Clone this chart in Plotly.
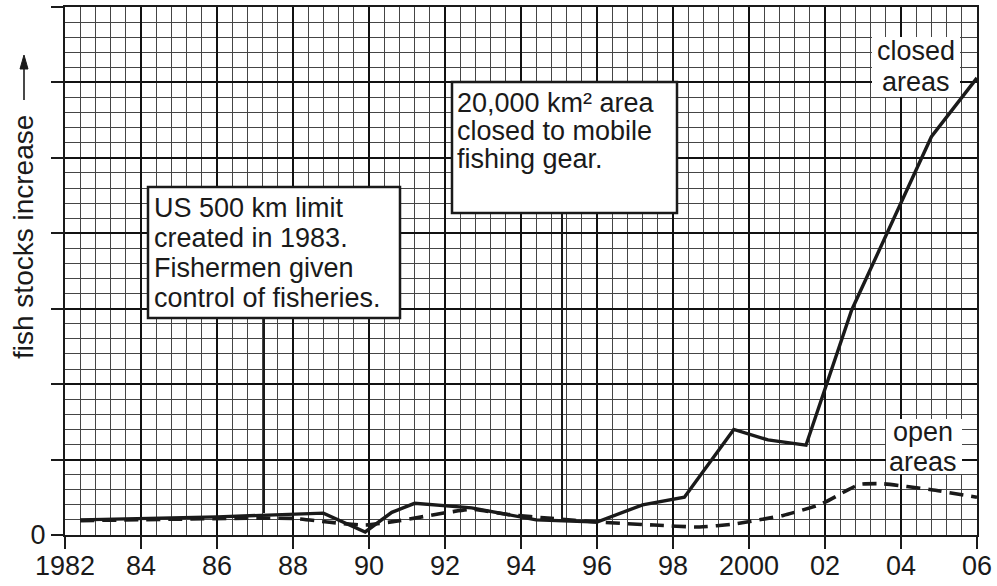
import plotly.graph_objects as go

# ---- data ----
closed_years = [1982.4, 1986.0, 1988.8, 1989.9, 1990.6, 1991.2, 1992.7, 1993.5, 1994.4, 1996.0,
                1996.6, 1997.2, 1998.3, 1999.6, 2000.5, 2001.5, 2002.7, 2004.8, 2006.0]
closed_vals = [1.0, 1.2, 1.45, 0.2, 1.5, 2.1, 1.8, 1.4, 1.0, 0.86,
               1.45, 2.0, 2.5, 7.0, 6.3, 5.95, 14.9, 26.4, 30.3]

open_years = [1982.4, 1988.0, 1988.9, 1989.9, 1990.8, 1992.2, 1992.7, 1993.7, 1994.8, 1996.0,
              1997.5, 1998.7, 1999.6, 2000.9, 2001.9, 2002.5, 2002.9, 2003.5, 2004.8, 2006.0]
open_vals = [0.95, 1.1, 0.86, 0.66, 0.95, 1.55, 1.7, 1.35, 1.1, 0.86,
             0.66, 0.53, 0.73, 1.3, 2.05, 2.85, 3.35, 3.4, 3.0, 2.5]

x_tickvals = list(range(1982, 2007, 2))
x_ticktext = ["1982", "84", "86", "88", "90", "92", "94", "96", "98", "2000", "02", "04", "06"]
y_tickvals = [0, 5, 10, 15, 20, 25, 30, 35]
y_ticktext = ["0", "", "", "", "", "", "", ""]

y_title = "fish stocks increase"
box1_lines = ["US 500 km limit", "created in 1983.", "Fishermen given", "control of fisheries."]
box2_lines = ["20,000 km² area", "closed to mobile", "fishing gear."]
closed_label = ["closed", "areas"]
open_label = ["open", "areas"]

FONT = "Liberation Sans, Arial, Helvetica, sans-serif"
FS = 27
INK = "#1a1a1a"

# layout geometry (pixels)
W, H = 997, 586
L, R, T, B = 65, 20, 7, 51
PW, PH = W - L - R, H - T - B


def px(xp):
    return (xp - L) / PW


def py(yp):
    return (H - B - yp) / PH


fig = go.Figure()
fig.add_trace(go.Scatter(x=open_years, y=open_vals, mode="lines",
                         line=dict(color=INK, width=3.6, dash="14px,8px", shape="spline", smoothing=0.5),
                         showlegend=False, hoverinfo="skip"))
fig.add_trace(go.Scatter(x=closed_years, y=closed_vals, mode="lines",
                         line=dict(color=INK, width=3.4),
                         showlegend=False, hoverinfo="skip"))

shapes = []
annotations = []

# annotation boxes
for (x0, y0, x1, y1) in [(148, 187, 400, 318), (452, 82, 677, 213)]:
    shapes.append(dict(type="rect", xref="paper", yref="paper",
                       x0=px(x0), x1=px(x1), y0=py(y1), y1=py(y0),
                       fillcolor="white", line=dict(color=INK, width=2.5), layer="above"))
# white patches behind the series labels
for (x0, y0, x1, y1) in [(872, 37, 960, 97), (886, 419, 962, 474)]:
    shapes.append(dict(type="rect", xref="paper", yref="paper",
                       x0=px(x0), x1=px(x1), y0=py(y1), y1=py(y0),
                       fillcolor="white", line=dict(width=0), layer="above"))
# connectors
for (xc, ya, yb) in [(264, 318, 513), (562, 213, 520)]:
    shapes.append(dict(type="line", xref="paper", yref="paper",
                       x0=px(xc), x1=px(xc), y0=py(ya), y1=py(yb),
                       line=dict(color=INK, width=2), layer="above"))
# y-title arrow (shaft + head)
shapes.append(dict(type="line", xref="paper", yref="paper",
                   x0=px(24), x1=px(24), y0=py(100), y1=py(64),
                   line=dict(color=INK, width=1.6)))
shapes.append(dict(type="path", xref="paper", yref="paper",
                   path="M {:.5f},{:.5f} L {:.5f},{:.5f} L {:.5f},{:.5f} Z".format(
                       px(24), py(55), px(20), py(69), px(28), py(69)),
                   fillcolor=INK, line=dict(color=INK, width=1)))


def add_text(text, xp, yp, xanchor="left", size=FS, angle=0):
    annotations.append(dict(text=text, xref="paper", yref="paper", x=px(xp), y=py(yp),
                            xanchor=xanchor, yanchor="middle", showarrow=False, textangle=angle,
                            font=dict(family=FONT, size=size, color=INK), borderpad=0))


for i, t in enumerate(box1_lines):
    add_text(t, 153, 208.5 + i * 29.7)
for i, t in enumerate(box2_lines):
    add_text(t, 456, 102.5 + i * 28)
for i, t in enumerate(closed_label):
    add_text(t, 916, 51.5 + i * 30, xanchor="center")
for i, t in enumerate(open_label):
    add_text(t, 923, 431.5 + i * 30, xanchor="center")

# y-axis title
add_text(y_title, 24, 237, xanchor="center", size=28, angle=-90)

axis_common = dict(ticks="outside", ticklen=12, tickwidth=2, tickcolor=INK,
                   showline=True, linecolor=INK, linewidth=2.2, mirror=True,
                   showgrid=True, gridcolor="#111", gridwidth=1.7,
                   zeroline=False, automargin=False, fixedrange=True,
                   tickfont=dict(family=FONT, size=FS, color=INK))

fig.update_layout(
    template="none",
    width=W, height=H,
    margin=dict(l=L, r=R, t=T, b=B, pad=0, autoexpand=False),
    paper_bgcolor="white", plot_bgcolor="white",
    shapes=shapes, annotations=annotations,
    font=dict(family=FONT, size=FS, color=INK),
    showlegend=False,
    xaxis=dict(range=[1982, 2006], tickvals=x_tickvals, ticktext=x_ticktext,
               ticklabelstandoff=-7, layer="below traces",
               minor=dict(tick0=1982, dtick=0.4, showgrid=True, gridcolor="#454545", gridwidth=1.1, ticks=""),
               **axis_common),
    yaxis=dict(range=[0, 35], tickvals=y_tickvals, ticktext=y_ticktext,
               minor=dict(tick0=0, dtick=1, showgrid=True, gridcolor="#454545", gridwidth=1.1, ticks=""),
               **axis_common),
)

fig.write_html("out.html", config={"displayModeBar": False},
               post_script="document.body.style.margin='0';document.body.style.padding='0';")
